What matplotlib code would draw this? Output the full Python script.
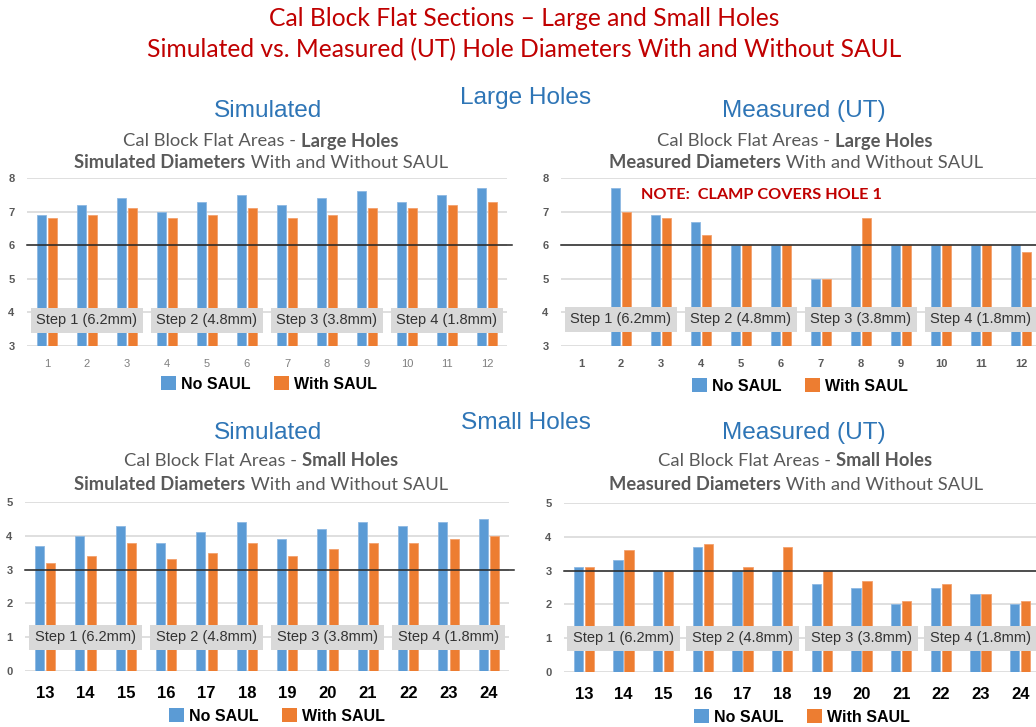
import matplotlib
matplotlib.use('Agg')
import matplotlib.pyplot as plt
import numpy as np
from matplotlib.patches import Patch

# === Data ===
holes_large = [str(i) for i in range(1, 13)]
holes_small = [str(i) for i in range(13, 25)]

sim_large_no = [6.9, 7.2, 7.4, 7.0, 7.3, 7.5, 7.2, 7.4, 7.6, 7.3, 7.5, 7.7]
sim_large_with = [6.8, 6.9, 7.1, 6.8, 6.9, 7.1, 6.8, 6.9, 7.1, 7.1, 7.2, 7.3]

# hole 1 is covered by the clamp -> no measurement
meas_large_no = [np.nan, 7.7, 6.9, 6.7, 6.0, 6.0, 5.0, 6.0, 6.0, 6.0, 6.0, 6.0]
meas_large_with = [np.nan, 7.0, 6.8, 6.3, 6.0, 6.0, 5.0, 6.8, 6.0, 6.0, 6.0, 5.8]

sim_small_no = [3.7, 4.0, 4.3, 3.8, 4.1, 4.4, 3.9, 4.2, 4.4, 4.3, 4.4, 4.5]
sim_small_with = [3.2, 3.4, 3.8, 3.3, 3.5, 3.8, 3.4, 3.6, 3.8, 3.8, 3.9, 4.0]

meas_small_no = [3.1, 3.3, 3.0, 3.7, 3.0, 3.0, 2.6, 2.5, 2.0, 2.5, 2.3, 2.0]
meas_small_with = [3.1, 3.6, 3.0, 3.8, 3.1, 3.7, 3.0, 2.7, 2.1, 2.6, 2.3, 2.1]

steps = ['Step 1 (6.2mm)', 'Step 2 (4.8mm)', 'Step 3 (3.8mm)', 'Step 4 (1.8mm)']
series_names = ['No SAUL', 'With SAUL']

BLUE = '#5B9BD5'
ORANGE = '#ED7D31'
GRID = '#D9D9D9'
RED = '#C00000'
HEAD = '#2E75B6'
SUB = '#595959'
ARIAL = 'Liberation Sans'
CALIBRI = 'Lato'

W, H = 1036, 727
fig = plt.figure(figsize=(W / 100, H / 100), dpi=100)


def px_axes(x0, x1, ytop, ybot):
    return fig.add_axes([x0 / W, 1 - ybot / H, (x1 - x0) / W, (ybot - ytop) / H])


def draw_panel(ax, labels, no_vals, with_vals, ylim, ref, step_y, small_ticks):
    x = np.arange(len(labels))
    ax.bar(x - 0.14, no_vals, width=0.23, color=BLUE, edgecolor='#8DB8E2', linewidth=0.6, zorder=2)
    ax.bar(x + 0.14, with_vals, width=0.23, color=ORANGE, edgecolor='#F3A16E', linewidth=0.6, zorder=2)
    ax.set_xlim(-0.5, len(labels) - 0.5)
    ax.set_ylim(*ylim)
    ax.set_yticks(np.arange(ylim[0], ylim[1] + 1))
    ax.yaxis.grid(True, color=GRID, lw=1.2)
    ax.set_axisbelow(True)
    for s in ax.spines.values():
        s.set_visible(False)
    ax.set_xticks(x)
    ax.set_xticklabels(labels)
    ax.tick_params(length=0)
    ax.tick_params(axis='y', pad=9, labelsize=8, labelcolor=SUB)
    for t in ax.get_yticklabels():
        t.set_fontweight('bold')
        t.set_family(ARIAL)
    if small_ticks == 'plain':
        ax.tick_params(axis='x', pad=9, labelsize=8, labelcolor='#7F7F7F')
    elif small_ticks == 'bold':
        ax.tick_params(axis='x', pad=9, labelsize=8, labelcolor=SUB)
        for t in ax.get_xticklabels():
            t.set_fontweight('bold')
    else:
        ax.tick_params(axis='x', pad=11, labelsize=12, labelcolor='black')
        for t in ax.get_xticklabels():
            t.set_fontweight('bold')
    for t in ax.get_xticklabels():
        t.set_family(ARIAL)
    # reference line
    ax.plot([0.0, 1.01], [ref, ref], color='#262626', lw=1.1,
            transform=ax.get_yaxis_transform(), clip_on=False, zorder=3)
    # step boxes
    for i, s in enumerate(steps):
        ax.text(1 + 3 * i, step_y, s, ha='center', va='center', fontsize=10.5,
                family=ARIAL, color='#333333', zorder=5,
                bbox=dict(boxstyle='square,pad=0.38', fc='#D9D9D9', ec='none'))


def legend_at(xc, yc):
    handles = [Patch(facecolor=BLUE, edgecolor='none'), Patch(facecolor=ORANGE, edgecolor='none')]
    fig.legend(handles, series_names, loc='center', bbox_to_anchor=(xc / W, 1 - yc / H),
               ncol=2, frameon=False, handlelength=0.95, handleheight=0.95,
               handletextpad=0.3, columnspacing=1.5, borderpad=0,
               prop=dict(family=ARIAL, weight='bold', size=11.5))


def rich_line(xc, yc, parts, size, color, family):
    # draw a centred line built from (text, weight) pieces
    r = fig.canvas.get_renderer()
    objs = [fig.text(0, 1 - yc / H, t, fontsize=size, fontweight=wt, color=color,
                     family=family, ha='left', va='center') for t, wt in parts]
    widths = [o.get_window_extent(renderer=r).width for o in objs]
    x = xc - sum(widths) / 2
    for o, w in zip(objs, widths):
        o.set_x(x / W)
        x += w


# === Panels ===
ax1 = px_axes(27, 507, 178, 346)
draw_panel(ax1, holes_large, sim_large_no, sim_large_with, (3, 8), 6, 3.77, 'plain')
ax2 = px_axes(561, 1041, 178, 346)
draw_panel(ax2, holes_large, meas_large_no, meas_large_with, (3, 8), 6, 3.8, 'bold')
ax2.text(4.5, 7.49, 'NOTE:  CLAMP COVERS HOLE 1', ha='center', va='center',
         fontsize=11.7, fontweight='bold', color=RED, family=CALIBRI)
ax3 = px_axes(25, 509, 502, 671)
draw_panel(ax3, holes_small, sim_small_no, sim_small_with, (0, 5), 3, 1.0, 'big')
ax4 = px_axes(564, 1040, 503, 672)
draw_panel(ax4, holes_small, meas_small_no, meas_small_with, (0, 5), 3, 1.0, 'big')

legend_at(269, 384)
legend_at(800, 386)
legend_at(277, 716)
legend_at(802, 717)

# === Titles ===
fig.text(524 / W, 1 - 18 / H, 'Cal Block Flat Sections \u2013 Large and Small Holes',
         ha='center', va='center', fontsize=17.7, color=RED, family=CALIBRI)
fig.text(524 / W, 1 - 50 / H, 'Simulated vs. Measured (UT) Hole Diameters With and Without SAUL',
         ha='center', va='center', fontsize=17.7, color=RED, family=CALIBRI)

for yc, name in [(98, 'Large Holes'), (423, 'Small Holes')]:
    fig.text(526 / W, 1 - yc / H, name, ha='center', va='center', fontsize=17.6,
             color=HEAD, family=ARIAL)

for yc in [111, 433]:
    fig.text(268 / W, 1 - yc / H, 'Simulated', ha='center', va='center', fontsize=17.6,
             color=HEAD, family=ARIAL)
    fig.text(804 / W, 1 - yc / H, 'Measured (UT)', ha='center', va='center', fontsize=17.6,
             color=HEAD, family=ARIAL)

for (y1, y2, kind) in [(141, 163, 'Large Holes'), (461, 485, 'Small Holes')]:
    rich_line(261, y1, [('Cal Block Flat Areas - ', 'normal'), (kind, 'bold')], 13.2, SUB, CALIBRI)
    rich_line(261, y2, [('Simulated Diameters', 'bold'), (' With and Without SAUL', 'normal')], 13.2, SUB, CALIBRI)
    rich_line(795, y1, [('Cal Block Flat Areas - ', 'normal'), (kind, 'bold')], 13.2, SUB, CALIBRI)
    rich_line(796, y2, [('Measured Diameters', 'bold'), (' With and Without SAUL', 'normal')], 13.2, SUB, CALIBRI)

fig.savefig('out.png', dpi=100, facecolor='white')
